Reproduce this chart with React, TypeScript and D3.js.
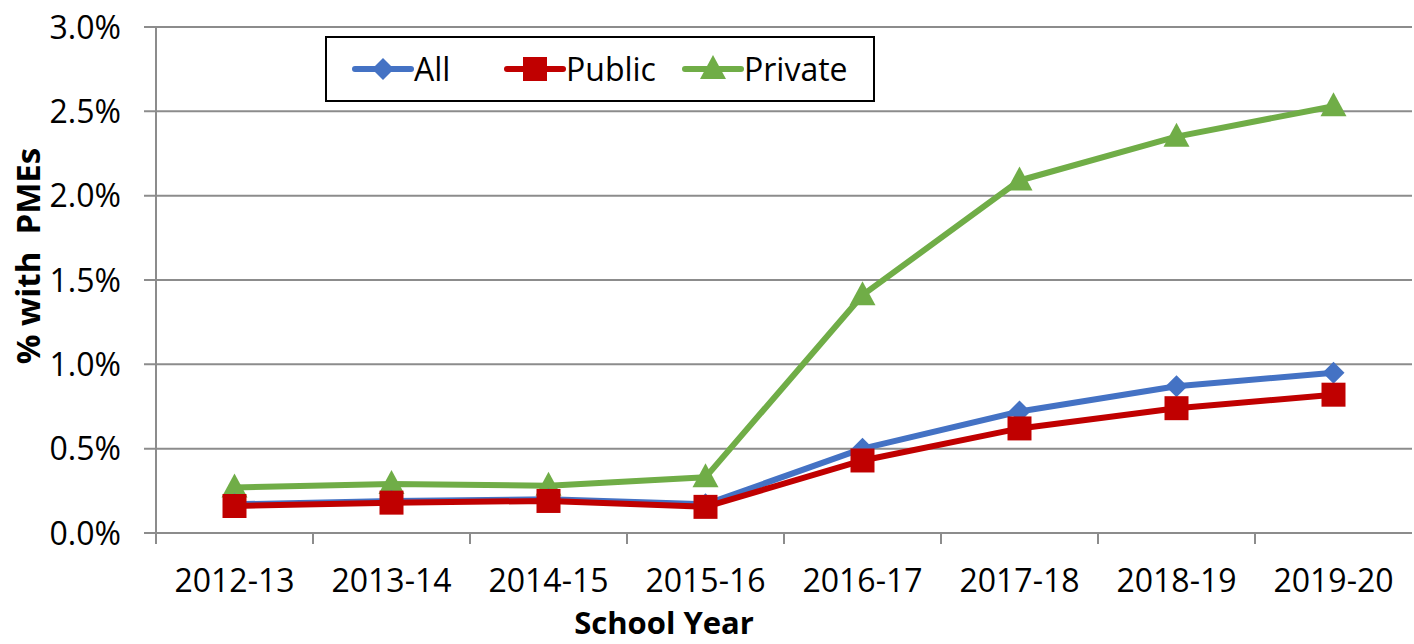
import React, { useEffect, useRef } from 'react';
import * as d3 from 'd3';

const years = ['2012-13', '2013-14', '2014-15', '2015-16', '2016-17', '2017-18', '2018-19', '2019-20'];
const allValues = [0.17, 0.19, 0.2, 0.17, 0.5, 0.72, 0.87, 0.95];
const publicValues = [0.16, 0.18, 0.19, 0.155, 0.43, 0.62, 0.74, 0.82];
const privateValues = [0.27, 0.29, 0.28, 0.33, 1.41, 2.09, 2.35, 2.53];
const yTicks = [0, 0.5, 1.0, 1.5, 2.0, 2.5, 3.0];

const FONT = '"Open Sans", Carlito, Calibri, sans-serif';

type Series = { name: string; values: number[]; color: string; marker: 'diamond' | 'square' | 'triangle' };

const series: Series[] = [
  { name: 'All', values: allValues, color: '#4472C4', marker: 'diamond' },
  { name: 'Public', values: publicValues, color: '#C00000', marker: 'square' },
  { name: 'Private', values: privateValues, color: '#70AD47', marker: 'triangle' },
];

function markerPath(kind: Series['marker']): string {
  if (kind === 'diamond') return 'M0,-11L11,0L0,11L-11,0Z';
  if (kind === 'square') return 'M-12,-12H12V12H-12Z';
  return 'M0,-14L13,10H-13Z';
}

const App: React.FC = () => {
  const svgRef = useRef<SVGSVGElement>(null);

  useEffect(() => {
    if (!svgRef.current) return;
    const width = 1414;
    const height = 644;
    const margin = { top: 27, right: 2, bottom: 111, left: 156 };

    const svg = d3.select(svgRef.current).attr('width', width).attr('height', height);
    svg.selectAll('*').remove();

    const innerW = width - margin.left - margin.right;
    const innerH = height - margin.top - margin.bottom;

    const g = svg.append('g').attr('transform', `translate(${margin.left},${margin.top})`);

    const x = d3.scaleBand().domain(years).range([0, innerW]);
    const y = d3.scaleLinear().domain([0, 3]).range([innerH, 0]);

    // gridlines
    g.selectAll('.grid')
      .data(yTicks)
      .enter()
      .append('line')
      .attr('x1', -12)
      .attr('x2', innerW)
      .attr('y1', (d) => y(d))
      .attr('y2', (d) => y(d))
      .attr('stroke', '#8c8c8c')
      .attr('stroke-width', 2);

    // y axis line
    g.append('line')
      .attr('x1', 0)
      .attr('x2', 0)
      .attr('y1', 0)
      .attr('y2', innerH)
      .attr('stroke', '#8c8c8c')
      .attr('stroke-width', 2);

    // x tick marks at band boundaries
    g.selectAll('.xtick')
      .data(years)
      .enter()
      .append('line')
      .attr('x1', (d) => x(d) ?? 0)
      .attr('x2', (d) => x(d) ?? 0)
      .attr('y1', innerH)
      .attr('y2', innerH + 11)
      .attr('stroke', '#8c8c8c')
      .attr('stroke-width', 2);

    // y tick labels
    g.selectAll('.ylabel')
      .data(yTicks)
      .enter()
      .append('text')
      .attr('x', -35)
      .attr('y', (d) => y(d))
      .attr('dy', '0.36em')
      .attr('text-anchor', 'end')
      .attr('font-family', FONT)
      .attr('font-size', 32)
      .attr('fill', '#000')
      .text((d) => `${d.toFixed(1)}%`);

    // x tick labels
    g.selectAll('.xlabel')
      .data(years)
      .enter()
      .append('text')
      .attr('x', (d) => (x(d) ?? 0) + x.bandwidth() / 2)
      .attr('y', innerH + 59)
      .attr('text-anchor', 'middle')
      .attr('font-family', FONT)
      .attr('font-size', 32)
      .attr('fill', '#000')
      .text((d) => d);

    // axis titles
    svg
      .append('text')
      .attr('x', 664)
      .attr('y', 634)
      .attr('text-anchor', 'middle')
      .attr('font-family', FONT)
      .attr('font-size', 31)
      .attr('font-weight', 'bold')
      .text('School Year');

    svg
      .append('text')
      .attr('transform', `translate(40,256) rotate(-90)`)
      .attr('text-anchor', 'middle')
      .attr('font-family', FONT)
      .attr('font-size', 33)
      .attr('font-weight', 'bold')
      .style('white-space', 'pre')
      .text('% with  PMEs');

    const line = d3
      .line<number>()
      .x((_, i) => (x(years[i]) ?? 0) + x.bandwidth() / 2)
      .y((d) => y(d));

    // draw Private first so All/Public overlay at low values
    const drawOrder = [series[2], series[0], series[1]];
    drawOrder.forEach((s) => {
      g.append('path')
        .datum(s.values)
        .attr('fill', 'none')
        .attr('stroke', s.color)
        .attr('stroke-width', 6)
        .attr('stroke-linejoin', 'round')
        .attr('d', line);
      g.selectAll(null)
        .data(s.values)
        .enter()
        .append('path')
        .attr('d', markerPath(s.marker))
        .attr('fill', s.color)
        .attr(
          'transform',
          (d, i) => `translate(${(x(years[i]) ?? 0) + x.bandwidth() / 2},${y(d)})`,
        );
    });

    // legend
    const legend = svg.append('g').attr('transform', 'translate(326,37)');
    legend
      .append('rect')
      .attr('width', 548)
      .attr('height', 64)
      .attr('fill', '#fff')
      .attr('stroke', '#000')
      .attr('stroke-width', 2);
    const legendX = [29, 181, 359];
    series.forEach((s, i) => {
      const lg = legend.append('g').attr('transform', `translate(${legendX[i]},32)`);
      lg.append('line')
        .attr('x1', 0)
        .attr('x2', 56)
        .attr('stroke', s.color)
        .attr('stroke-width', 6)
        .attr('stroke-linecap', 'round');
      lg.append('path')
        .attr('d', markerPath(s.marker))
        .attr('fill', s.color)
        .attr('transform', 'translate(28,0)');
      lg.append('text')
        .attr('x', 59)
        .attr('dy', '0.36em')
        .attr('font-family', FONT)
        .attr('font-size', 32)
        .attr('fill', '#000')
        .text(s.name);
    });
  }, []);

  return <svg ref={svgRef} style={{ position: 'absolute', left: 0, top: 0 }}></svg>;
};

export default App;
